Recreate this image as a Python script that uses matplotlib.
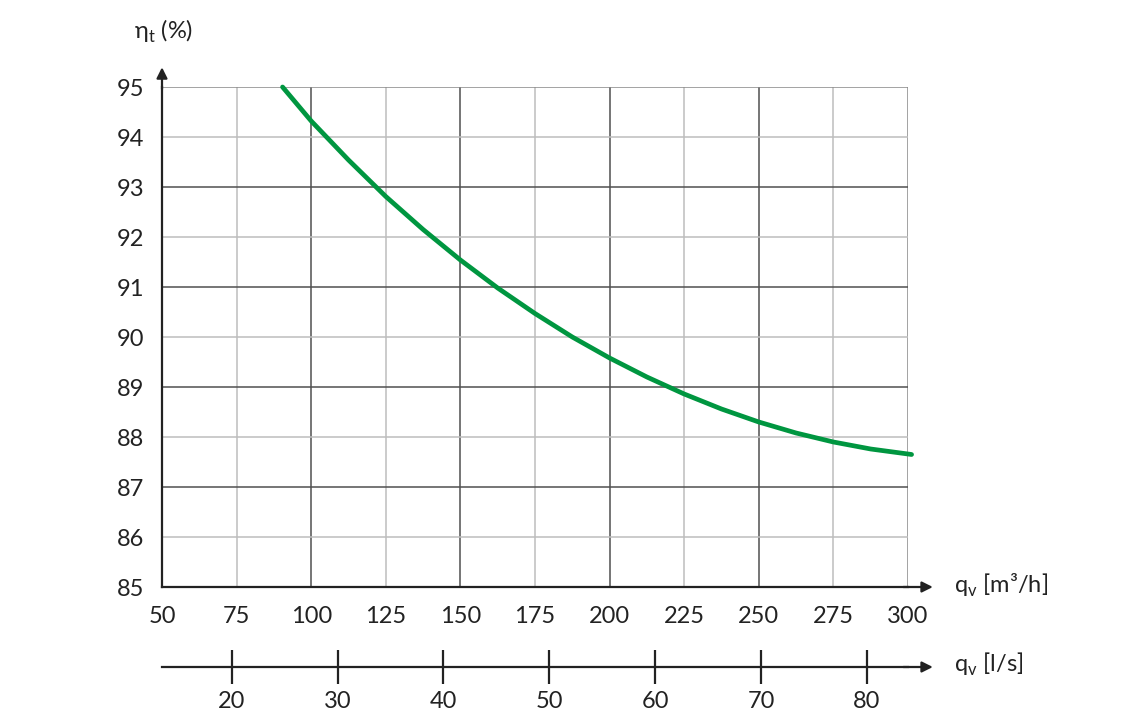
import numpy as np
import matplotlib.pyplot as plt

plt.rcParams['font.family'] = ['Lato', 'DejaVu Sans']

# efficiency curve (q_v in m3/h, eta_t in %)
flow = [90.4, 100, 112.5, 125, 137.5, 150, 162.5, 175, 187.5, 200, 212.5, 225,
        237.5, 250, 262.5, 275, 287.5, 300, 301.2]
eta = [95.0, 94.32, 93.54, 92.81, 92.15, 91.54, 90.98, 90.47, 90.0, 89.58, 89.2, 88.86,
       88.56, 88.3, 88.08, 87.9, 87.76, 87.66, 87.65]

x_ticks = [50, 75, 100, 125, 150, 175, 200, 225, 250, 275, 300]
y_ticks = [85, 86, 87, 88, 89, 90, 91, 92, 93, 94, 95]
ls_ticks = [20, 30, 40, 50, 60, 70, 80]

fig = plt.figure(figsize=(11.44, 7.24), dpi=100)
ax = fig.add_axes([162/1144, 137/724, 746/1144, 500/724])

# grid: odd % rows and every 50 m3/h darker
for v in x_ticks[1:]:
    c = '#505050' if v % 50 == 0 else '#bdbdbd'
    if v == 300:
        c = '#8a8a8a'
    ax.axvline(v, color=c, lw=1.1, zorder=1)
for v in y_ticks[1:]:
    c = '#505050' if v % 2 == 1 else '#bdbdbd'
    if v == 95:
        c = '#8a8a8a'
    ax.axhline(v, color=c, lw=1.1, zorder=1)

ax.plot(flow, eta, color='#009640', lw=3.4, solid_capstyle='round',
        solid_joinstyle='round', zorder=3, clip_on=False)

ax.set_xlim(50, 300)
ax.set_ylim(85, 95)
ax.set_xticks(x_ticks)
ax.set_yticks(y_ticks)
ax.tick_params(length=0, labelsize=17, colors='#222222')
ax.tick_params(axis='y', pad=13)
ax.tick_params(axis='x', pad=14)
for s in ['top', 'right']:
    ax.spines[s].set_visible(False)
for s in ['left', 'bottom']:
    ax.spines[s].set_color('#222222')
    ax.spines[s].set_linewidth(1.6)

# arrows on the axes
ax.annotate('', xy=(0, 1.045), xytext=(0, 0.99), xycoords='axes fraction',
            arrowprops=dict(arrowstyle='-|>', color='#222222', lw=1.6, mutation_scale=16))
ax.annotate('', xy=(1.037, 0), xytext=(0.99, 0), xycoords='axes fraction',
            arrowprops=dict(arrowstyle='-|>', color='#222222', lw=1.6, mutation_scale=16))

fig.text(134/1144, 1 - 31/724, r'η$_{\mathregular{t}}$ (%)', fontsize=17, color='#222222', va='center')
fig.text(954/1144, 1 - 585/724, r'q$_{\mathregular{v}}$ [m³/h]', fontsize=17, color='#222222', va='center')
fig.text(954/1144, 1 - 664/724, r'q$_{\mathregular{v}}$ [l/s]', fontsize=17, color='#222222', va='center')

# second scale in l/s (as drawn in the reference)
ax2 = fig.add_axes([162/1144, 57/724, 746/1144, 0.001])
ax2.set_xlim(13.42, 83.87)
ax2.set_xticks(ls_ticks)
ax2.set_yticks([])
for s in ['top', 'right', 'left']:
    ax2.spines[s].set_visible(False)
ax2.spines['bottom'].set_color('#222222')
ax2.spines['bottom'].set_linewidth(1.6)
ax2.patch.set_visible(False)
ax2.tick_params(axis='x', direction='inout', length=24, width=1.6, colors='#222222',
                labelsize=17, pad=5)
ax2.annotate('', xy=(1.037, 0), xytext=(0.99, 0), xycoords='axes fraction',
             arrowprops=dict(arrowstyle='-|>', color='#222222', lw=1.6, mutation_scale=16))

fig.savefig('out.png', dpi=100)
